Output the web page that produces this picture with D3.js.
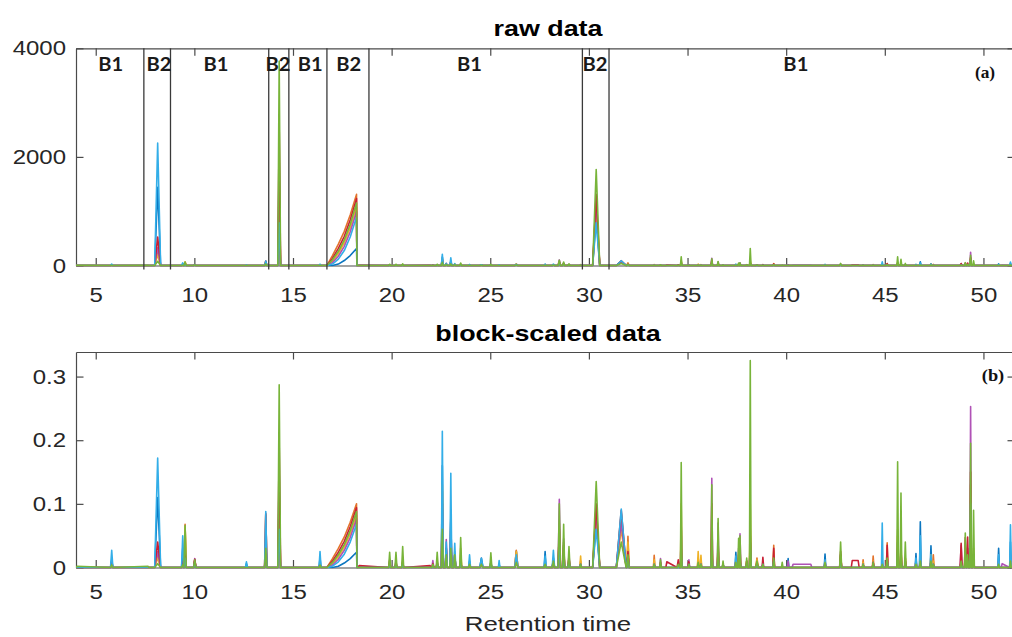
<!DOCTYPE html>
<html>
<head>
<meta charset="utf-8">
<script src="https://cdn.jsdelivr.net/npm/d3@7"></script>
<style>
  html, body { margin: 0; padding: 0; background: #fff; }
  svg { display: block; }
</style>
</head>
<body>
<svg id="chart" width="1012" height="637"></svg>
<script>
// ---------------------------------------------------------------
// Chromatogram data (retention time in minutes)
// Series order: blue, orange, yellow, purple, red, light blue, green
// ---------------------------------------------------------------
const seriesColors = ["#0b76c0", "#e3742d", "#efb226", "#b052b6", "#c81f34", "#33aee8", "#78b43a"];

const xTicks = [5, 10, 15, 20, 25, 30, 35, 40, 45, 50];
const rawTicks = [0, 2000, 4000];
const scaledTicks = [0, 0.1, 0.2, 0.3];

// block boundaries (retention time) and the B2 windows
const blockEdges = [7.44, 8.79, 13.77, 14.79, 16.72, 18.85, 29.67, 31.02];
const b2Windows = [[7.44, 8.79], [13.77, 14.79], [16.72, 18.85], [29.67, 31.02]];
const blockLabels = ["B1", "B2", "B1", "B2", "B1", "B2", "B1", "B2", "B1"];
const blockLabelTimes = [5.76, 8.21, 11.1, 14.24, 15.87, 17.83, 23.94, 30.31, 40.49];

// block norms used to go from raw intensity to block-scaled intensity
const normB1 = 960;
const normB2 = 13100;

// peak apex times and half widths
const peakTimes = [5.81, 8.14, 9.41, 9.53, 10.02, 12.64, 13.62, 14.30, 16.37, 19.90,
  20.22, 20.56, 22.09, 22.31, 22.57, 22.77, 23.00, 23.20, 23.50, 23.95,
  24.55, 25.03, 25.45, 26.32, 27.78, 28.20, 28.50, 28.72, 28.99, 29.58,
  30.37, 31.64, 31.98, 33.31, 33.63, 34.53, 34.68, 35.07, 35.54, 35.68,
  36.23, 36.55, 36.80, 37.45, 37.59, 37.66, 38.00, 38.18, 38.52, 38.82,
  39.37, 39.80, 40.10, 41.97, 42.76, 43.90, 44.41, 44.87, 45.12, 45.65,
  45.82, 46.04, 46.58, 46.80, 47.34, 47.46, 48.87, 49.08, 49.20, 49.35,
  49.50, 50.77, 51.37];
const peakWidths = [0.06, 0.15, 0.06, 0.06, 0.06, 0.05, 0.06, 0.07, 0.05, 0.05,
  0.05, 0.05, 0.05, 0.05, 0.05, 0.05, 0.05, 0.05, 0.05, 0.05,
  0.08, 0.05, 0.04, 0.08, 0.05, 0.06, 0.06, 0.05, 0.05, 0.04,
  0.18, 0.25, 0.06, 0.04, 0.04, 0.06, 0.04, 0.04, 0.04, 0.04,
  0.04, 0.04, 0.04, 0.04, 0.04, 0.04, 0.04, 0.04, 0.06, 0.04,
  0.04, 0.04, 0.04, 0.04, 0.05, 0.04, 0.04, 0.04, 0.04, 0.04,
  0.04, 0.04, 0.04, 0.04, 0.04, 0.04, 0.05, 0.04, 0.04, 0.04,
  0.04, 0.04, 0.04];

// block-scaled peak heights, one array per sample
const blueHeights = [0.012, 0.110, 0.030, 0.020, 0.010, 0.006, 0.030, 0.050, 0.015, 0.004,
  0.004, 0.005, 0, 0.005, 0.160, 0.030, 0.080, 0.020, 0.010, 0.010,
  0.015, 0.008, 0.005, 0.026, 0.025, 0.015, 0.050, 0.030, 0.010, 0.005,
  0.070, 0.075, 0.020, 0.005, 0.005, 0, 0.020, 0.005, 0.005, 0.005,
  0.030, 0.020, 0.005, 0.024, 0.015, 0.010, 0.005, 0.040, 0.005, 0.005,
  0.010, 0, 0.014, 0.021, 0.015, 0.005, 0.005, 0.010, 0.010, 0.020,
  0.015, 0.010, 0.022, 0.072, 0.034, 0.005, 0.010, 0.010, 0.010, 0.060,
  0.010, 0.030, 0.040];
const orangeHeights = [0.004, 0.020, 0.004, 0.068, 0.011, 0, 0.083, 0.120, 0.005, 0.004,
  0.004, 0.005, 0.003, 0.005, 0.120, 0.020, 0.045, 0.020, 0.020, 0.005,
  0.005, 0.005, 0, 0.027, 0.005, 0.010, 0.070, 0.040, 0.015, 0.010,
  0.085, 0.085, 0.049, 0.019, 0.005, 0.005, 0.060, 0.005, 0.015, 0.012,
  0.050, 0.030, 0.005, 0.010, 0.015, 0.015, 0.010, 0.060, 0.015, 0.005,
  0.035, 0, 0, 0.010, 0.020, 0.012, 0.018, 0.005, 0.039, 0.050,
  0.030, 0.015, 0.010, 0.020, 0.015, 0.020, 0.010, 0.020, 0.020, 0.130,
  0.020, 0.010, 0.010];
const yellowHeights = [0.004, 0.015, 0.004, 0.064, 0.012, 0, 0.050, 0.100, 0.004, 0.005,
  0.005, 0.006, 0.003, 0.005, 0.130, 0.020, 0.040, 0.025, 0.030, 0.005,
  0.005, 0.008, 0, 0.025, 0.005, 0.010, 0.060, 0.030, 0.015, 0.018,
  0.080, 0.060, 0.040, 0.012, 0.005, 0, 0.100, 0.005, 0.025, 0.019,
  0.060, 0.030, 0.005, 0.010, 0.015, 0.010, 0.010, 0.100, 0.012, 0.005,
  0.025, 0, 0, 0.005, 0.020, 0.008, 0.010, 0.005, 0.020, 0.060,
  0.040, 0.015, 0.010, 0.010, 0.020, 0.010, 0.010, 0.020, 0.020, 0.130,
  0.030, 0.005, 0.010];
const purpleHeights = [0.004, 0.025, 0.008, 0.030, 0.014, 0, 0.040, 0.150, 0.005, 0.010,
  0.008, 0.008, 0.011, 0.010, 0.090, 0.044, 0.060, 0.020, 0.010, 0.005,
  0.005, 0.005, 0, 0.015, 0.005, 0.010, 0.107, 0.045, 0.020, 0.005,
  0.090, 0.070, 0.020, 0.005, 0.014, 0.005, 0.065, 0.012, 0.005, 0.005,
  0.140, 0.070, 0.005, 0.010, 0.030, 0.053, 0.005, 0.040, 0.005, 0.008,
  0.015, 0, 0.010, 0.010, 0.020, 0.005, 0.008, 0.005, 0.015, 0.040,
  0.030, 0.010, 0.010, 0.015, 0.010, 0.005, 0.035, 0.020, 0.030, 0.253,
  0.020, 0.010, 0.020];
const redHeights = [0.010, 0.040, 0.010, 0.022, 0.013, 0, 0.085, 0.195, 0.005, 0.012,
  0.010, 0.010, 0.006, 0.008, 0.100, 0.030, 0.075, 0.020, 0.010, 0.005,
  0.008, 0.005, 0, 0.010, 0.005, 0.010, 0.060, 0.035, 0.015, 0.005,
  0.100, 0.090, 0.025, 0.005, 0.008, 0.012, 0.030, 0.008, 0.005, 0.005,
  0.100, 0.040, 0.005, 0.010, 0.020, 0.030, 0.010, 0.050, 0.008, 0.016,
  0.030, 0, 0, 0.005, 0.025, 0.005, 0.008, 0.005, 0.035, 0.030,
  0.025, 0.010, 0.005, 0.010, 0.010, 0.005, 0.038, 0.047, 0.048, 0.150,
  0.020, 0.005, 0.010];
const lightBlueHeights = [0.027, 0.172, 0.050, 0.015, 0.008, 0.009, 0.088, 0.060, 0.025, 0.004,
  0.004, 0.006, 0, 0.005, 0.214, 0.040, 0.148, 0.038, 0.010, 0.020,
  0.014, 0.008, 0.011, 0.020, 0.018, 0.027, 0.040, 0.020, 0.010, 0.005,
  0.060, 0.092, 0.015, 0.005, 0.005, 0, 0.020, 0.005, 0.005, 0.005,
  0.030, 0.015, 0.005, 0.018, 0.010, 0.010, 0.005, 0.030, 0.005, 0.005,
  0.010, 0, 0, 0.012, 0.010, 0.005, 0.005, 0.070, 0.010, 0.020,
  0.010, 0.005, 0.015, 0.050, 0.020, 0.005, 0.005, 0.010, 0.010, 0.100,
  0.010, 0.020, 0.067];
const greenHeights = [0.004, 0.006, 0.004, 0.066, 0.012, 0, 0.030, 0.287, 0.004, 0.024,
  0.024, 0.033, 0.005, 0.024, 0.060, 0.020, 0.030, 0.020, 0.047, 0.005,
  0.005, 0.023, 0, 0.008, 0.005, 0.010, 0.100, 0.068, 0.033, 0.005,
  0.135, 0.040, 0.020, 0.005, 0.012, 0.005, 0.165, 0.005, 0.008, 0.005,
  0.130, 0.077, 0.010, 0.008, 0.046, 0.050, 0.015, 0.325, 0.010, 0.005,
  0.015, 0.008, 0, 0.008, 0.040, 0.005, 0.008, 0.005, 0.015, 0.166,
  0.117, 0.040, 0.005, 0.010, 0.010, 0.005, 0.010, 0.054, 0.020, 0.195,
  0.090, 0.005, 0.010];

// the rising band at the end of the third B2 window
const rampTimes = [16.72, 17.0, 17.3, 17.6, 17.9, 18.22];
const rampEndTime = 18.24;
const blueRamp = [0, 0, 0.002, 0.007, 0.014, 0.024];
const orangeRamp = [0, 0.014, 0.030, 0.048, 0.071, 0.100];
const yellowRamp = [0, 0.006, 0.017, 0.032, 0.053, 0.082];
const purpleRamp = [0, 0.004, 0.013, 0.027, 0.047, 0.076];
const redRamp = [0, 0.010, 0.024, 0.041, 0.064, 0.094];
const lightBlueRamp = [0, 0.002, 0.009, 0.021, 0.040, 0.068];
const greenRamp = [0, 0.008, 0.020, 0.036, 0.058, 0.088];

// raised baseline stretches: [series index, start, end, level]
const plateaus = [
  [6, 4.0, 7.70, 0.002],
  [4, 18.30, 22.0, 0.003],
  [4, 33.90, 35.10, 0.009],
  [3, 40.30, 41.30, 0.005],
  [4, 43.30, 43.70, 0.011],
  [3, 50.90, 51.60, 0.006]
];

const heightSeries = [blueHeights, orangeHeights, yellowHeights, purpleHeights, redHeights, lightBlueHeights, greenHeights];
const rampSeries = [blueRamp, orangeRamp, yellowRamp, purpleRamp, redRamp, lightBlueRamp, greenRamp];

// ---------------------------------------------------------------
// Layout
// ---------------------------------------------------------------
const svg = d3.select("#chart");
const xDomain = [4, 51.6];
const plotLeft = 76, plotRight = 1015;
const stretch = 1.23;               // horizontal widening of the lettering
const fontSans = "'Liberation Sans', Arial, Helvetica, sans-serif";
const axisColor = "#4a4a4a";
const textColor = "#262626";

const x = d3.scaleLinear().domain(xDomain).range([plotLeft, plotRight]);

const panels = [
  { id: "raw", top: 48.3, bottom: 265.5, yMax: 4000, ticks: rawTicks, fmt: d3.format("d"), title: "raw data", titleY: 28, tag: "(a)", tagY: 73, tagX: 985, tagSize: 16.5, raw: true, tickLabelDy: 30 },
  { id: "scaled", top: 352, bottom: 567.5, yMax: 0.3386, ticks: scaledTicks, fmt: d => d === 0 ? "0" : d3.format(".1f")(d), title: "block-scaled data", titleY: 333, tag: "(b)", tagY: 375.5, tagX: 993, tagSize: 17.5, raw: false, tickLabelDy: 24.5 }
];

function isB2(t) {
  return b2Windows.some(w => t >= w[0] && t <= w[1]);
}

function seriesPoints(k, raw) {
  const pts = [[xDomain[0], 0]];
  const scale = t => raw ? (isB2(t) ? normB2 : normB1) : 1;
  heightSeries[k].forEach((h, i) => {
    if (h > 0) {
      const t = peakTimes[i], w = peakWidths[i];
      pts.push([t - w, 0], [t, h * scale(t)], [t + w, 0]);
    }
  });
  rampTimes.forEach((t, i) => pts.push([t, rampSeries[k][i] * scale(t)]));
  pts.push([rampEndTime, 0]);
  plateaus.filter(p => p[0] === k).forEach(p => {
    const s = scale((p[1] + p[2]) / 2);
    pts.push([p[1], 0], [p[1] + 0.05, p[3] * s], [p[2] - 0.05, p[3] * s], [p[2], 0]);
  });
  pts.push([xDomain[1], 0]);
  pts.sort((a, b) => a[0] - b[0]);
  return pts;
}

function stretchedText(g, tx, ty, txt, opts) {
  return g.append("text")
    .attr("transform", `translate(${tx},${ty}) scale(${opts.sx || stretch},1)`)
    .attr("text-anchor", opts.anchor || "middle")
    .attr("dominant-baseline", "central")
    .attr("font-family", opts.family || fontSans)
    .attr("font-size", opts.size)
    .attr("font-weight", opts.weight || "normal")
    .attr("fill", opts.fill || textColor)
    .text(txt);
}

function styleAxis(g) {
  g.select(".domain").attr("stroke", axisColor).attr("stroke-width", 1.2);
  g.selectAll(".tick line").attr("stroke", axisColor).attr("stroke-width", 1.2);
}

panels.forEach((p, pi) => {
  const y = d3.scaleLinear().domain([0, p.yMax]).range([p.bottom, p.top]);
  const g = svg.append("g").attr("class", "panel-" + p.id);

  // axes box with inward ticks
  const bottomAxis = g.append("g").attr("transform", `translate(0,${p.bottom})`)
    .call(d3.axisBottom(x).tickValues(xTicks).tickSizeInner(-7.5).tickSizeOuter(0).tickFormat(d3.format("d")));
  bottomAxis.selectAll(".tick text").each(function () {
    const t = d3.select(this);
    const txt = t.text();
    t.attr("y", null).attr("dy", null)
      .attr("transform", `translate(0,${p.tickLabelDy}) scale(${stretch},1)`)
      .attr("dominant-baseline", "central")
      .attr("font-family", fontSans).attr("font-size", 19.5).attr("fill", textColor).text(txt);
  });
  bottomAxis.attr("font-family", null).attr("font-size", null);
  styleAxis(bottomAxis);

  const topAxis = g.append("g").attr("transform", `translate(0,${p.top})`)
    .call(d3.axisTop(x).tickValues(xTicks).tickSizeInner(-7.5).tickSizeOuter(0).tickFormat(""));
  styleAxis(topAxis);

  const leftAxis = g.append("g").attr("transform", `translate(${plotLeft},0)`)
    .call(d3.axisLeft(y).tickValues(p.ticks).tickSizeInner(-7.5).tickSizeOuter(0).tickFormat(p.fmt));
  leftAxis.selectAll(".tick text").each(function () {
    const t = d3.select(this);
    t.attr("x", null).attr("dy", null)
      .attr("transform", `translate(-10,0) scale(${stretch},1)`)
      .attr("dominant-baseline", "central")
      .attr("text-anchor", "end")
      .attr("font-family", fontSans).attr("font-size", 19.5).attr("fill", textColor);
  });
  leftAxis.attr("font-family", null).attr("font-size", null);
  styleAxis(leftAxis);

  const rightAxis = g.append("g").attr("transform", `translate(${plotRight},0)`)
    .call(d3.axisRight(y).tickValues(p.ticks).tickSizeInner(-7.5).tickSizeOuter(0).tickFormat(""));
  styleAxis(rightAxis);

  // clip region for traces
  const clipId = "clip-" + p.id;
  g.append("clipPath").attr("id", clipId).append("rect")
    .attr("x", plotLeft).attr("y", p.top - 1)
    .attr("width", plotRight - plotLeft).attr("height", p.bottom - p.top + 2);

  const line = d3.line().x(d => x(d[0])).y(d => y(d[1]));
  const traces = g.append("g").attr("clip-path", `url(#${clipId})`);
  seriesColors.forEach((c, k) => {
    traces.append("path")
      .datum(seriesPoints(k, p.raw))
      .attr("d", line)
      .attr("fill", "none")
      .attr("stroke", c)
      .attr("stroke-width", 1.6)
      .attr("stroke-linejoin", "round");
  });

  if (p.raw) {
    // block separators and block names
    g.append("g").selectAll("line").data(blockEdges).join("line")
      .attr("x1", d => x(d)).attr("x2", d => x(d))
      .attr("y1", p.top).attr("y2", p.bottom + 4)
      .attr("stroke", "#3a3a3a").attr("stroke-width", 1.3);
    const lab = g.append("g");
    blockLabels.forEach((b, i) => {
      stretchedText(lab, x(blockLabelTimes[i]), 64, b, {
        size: 18, weight: "bold", family: "Lato, 'Open Sans', sans-serif", fill: "#1a1a1a", sx: 1.12
      });
    });
  }

  // panel tag
  stretchedText(g, p.tagX, p.tagY, p.tag, {
    size: p.tagSize, weight: "bold", family: "'Liberation Serif', 'Times New Roman', serif", fill: "#111", sx: 1.05
  });

  // panel title
  stretchedText(g, 548, p.titleY, p.title, { size: 21.5, weight: "bold", fill: "#000", sx: 1.25 });
});

// x-axis label
stretchedText(svg, 548, 624, "Retention time", { size: 21, fill: textColor });
</script>
</body>
</html>
